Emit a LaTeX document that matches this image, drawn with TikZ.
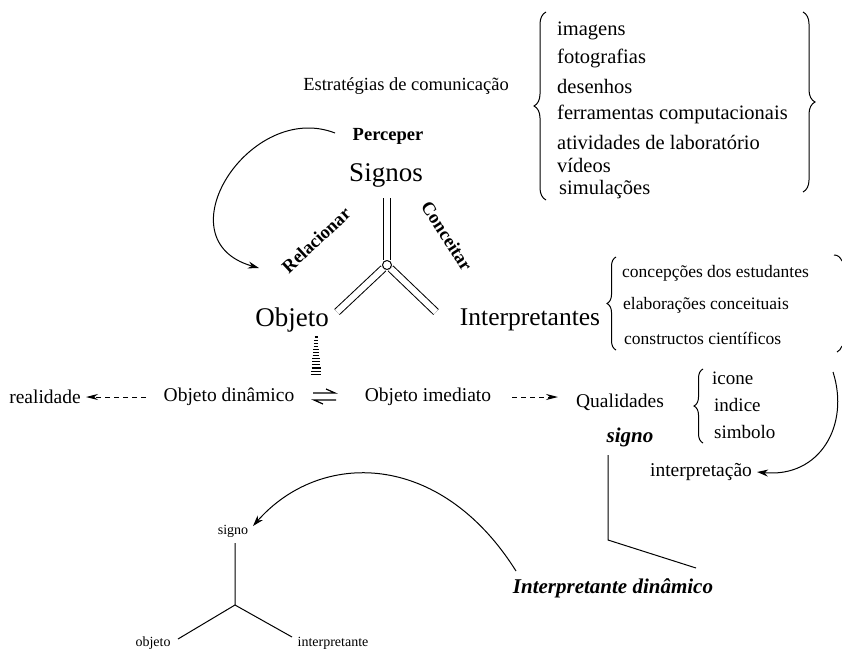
\documentclass[tikz,border=0pt]{standalone}
\usepackage{fontspec}
\setmainfont{Liberation Serif}
\usetikzlibrary{arrows.meta,decorations.pathreplacing}
\begin{document}
\begin{tikzpicture}[x=1pt,y=-1pt,
  txt/.style={inner sep=0pt, font=\fontsize{19.5}{22}\selectfont},
  big/.style={inner sep=0pt, font=\fontsize{#1}{30}\selectfont},
  small/.style={inner sep=0pt, font=\fontsize{14}{16}\selectfont},
  lbl/.style={inner sep=0pt, font=\fontsize{18.5}{21}\selectfont\bfseries},
  bit/.style={inner sep=0pt, font=\fontsize{#1}{24}\selectfont\bfseries\itshape},
  item/.style={inner sep=0pt, anchor=west, font=\fontsize{#1}{22}\selectfont},
  brc/.style={decorate, decoration={brace, amplitude=#1}, line width=1pt},
  ln/.style={line width=1pt},
  arr/.style={line width=1pt, -{Stealth[length=11pt,width=7pt]}},
  darr/.style={line width=1pt, dash pattern=on 5pt off 4pt, -{Stealth[length=12pt,width=6pt]}},
  dbl/.style={double, double distance=6pt, line width=1pt},
]
\useasboundingbox (0,0) rectangle (842,650);
\fill[white] (0,0) rectangle (842,650);

% communication strategies
\node[inner sep=0pt, font=\fontsize{18.5}{22}\selectfont] (estr) at (406,86) {Estratégias de comunicação};
\draw[brc=12] (546,200) -- (546,12);
\node[item=20.5] (i1) at (557,31) {imagens};
\node[item=20.5] (i2) at (557,58) {fotografias};
\node[item=20.5] (i3) at (557,86) {desenhos};
\node[item=20.5] (i4) at (557,114) {ferramentas computacionais};
\node[item=20.5] (i5) at (557,142) {atividades de laboratório};
\node[item=20.5] (i6) at (557,165) {vídeos};
\node[item=20.5] (i7) at (559,190) {simulações};
\draw[brc=12] (803,12) -- (803,192);

% triad
\node[lbl] (perc) at (388,136) {Perceper};
\node[big=27] (signos) at (386,175) {Signos};
\node[lbl, rotate=43] (rel) at (316,240) {Relacionar};
\node[lbl, rotate=-57] (conc) at (447,236) {Conceitar};
\node[big=27] (obj) at (292,320) {Objeto};
\node[big=25.5] (interp) at (530,320) {Interpretantes};

\coordinate (T) at (387,198);
\node[circle, draw, line width=1pt, minimum size=9pt, inner sep=0pt] (J) at (387,265) {};
\coordinate (L) at (337,312);
\coordinate (R) at (436,312);
\draw[dbl] (T) -- (J);
\draw[dbl] (J) -- (L);
\draw[dbl] (J) -- (R);

\coordinate (pa) at (335,133);
\coordinate (pb) at (259,268);
\draw[arr] (pa) .. controls (250,100) and (160,240) .. (pb);

% interpretantes list
\draw[brc=9] (616,350) -- (616,257);
\node[item=17.5] (c1) at (622,273) {concepções dos estudantes};
\node[item=17.5] (c2) at (623,305) {elaborações conceituais};
\node[item=17.5] (c3) at (624,338) {constructos científicos};
\draw[ln] (834,255) .. controls (838,255) and (840,257) .. (842,261);
\draw[ln] (837,352) .. controls (839,351) and (841,349) .. (842,346);

% hatched line
\foreach \i in {0,...,12}
  \draw[line width=1.1pt] ({316-1.5-0.3*\i},{337+3.1*\i}) -- ({316+1.5+0.3*\i},{337+3.1*\i});

% row
\node[txt] (real) at (45,397) {realidade};
\node[txt] (od) at (229,397) {Objeto dinâmico};
\node[txt] (oi) at (428,397) {Objeto imediato};
\node[txt] (qual) at (620,402) {Qualidades};
\coordinate (odw) at (146,397);
\coordinate (rea) at (86,397);
\draw[darr] (odw) -- (rea);
\coordinate (oie) at (512,397);
\coordinate (qw) at (558,397);
\draw[darr] (oie) -- (qw);

% equilibrium harpoons
\coordinate (h1) at (313,393);
\coordinate (h2) at (335,393);
\coordinate (h3) at (314,400);
\coordinate (h4) at (336,400);
\draw[line width=1.2pt] (h1) -- (h2) -- ++(-9,-4);
\draw[line width=1.2pt] (h4) -- (h3) -- ++(9,4);

% qualities
\draw[brc=9] (703,443) -- (703,369);
\node[item=19] (q1) at (712,378) {icone};
\node[item=19] (q2) at (714,405) {indice};
\node[item=19] (q3) at (714,432) {simbolo};

\node[bit=21] (signo) at (630,437) {signo};
\node[txt] (interpr) at (701,472) {interpretação};
\node[bit=21] (idin) at (613,588) {Interpretante dinâmico};

\coordinate (s1) at (608,455);
\coordinate (s2) at (608,540);
\coordinate (s3) at (696,568);
\draw[ln] (s1) -- (s2) -- (s3);

\coordinate (qa) at (833,372);
\draw[arr] (qa) .. controls (850,425) and (820,478) .. ([xshift=5pt]interpr.east);

\coordinate (da) at (516,571);
\coordinate (db) at (253,526);
\draw[arr] (da) .. controls (440,450) and (320,450) .. (db);

% small triad
\node[small] (sg) at (233,531) {signo};
\node[small] (so) at (153,643) {objeto};
\node[small] (si) at (333,643) {interpretante};
\coordinate (C) at (235,605);
\coordinate (Ct) at (235,543);
\coordinate (Cl) at (178,639);
\coordinate (Cr) at (292,637);
\draw[ln] (Ct) -- (C) -- (Cl);
\draw[ln] (C) -- (Cr);
\end{tikzpicture}
\end{document}
